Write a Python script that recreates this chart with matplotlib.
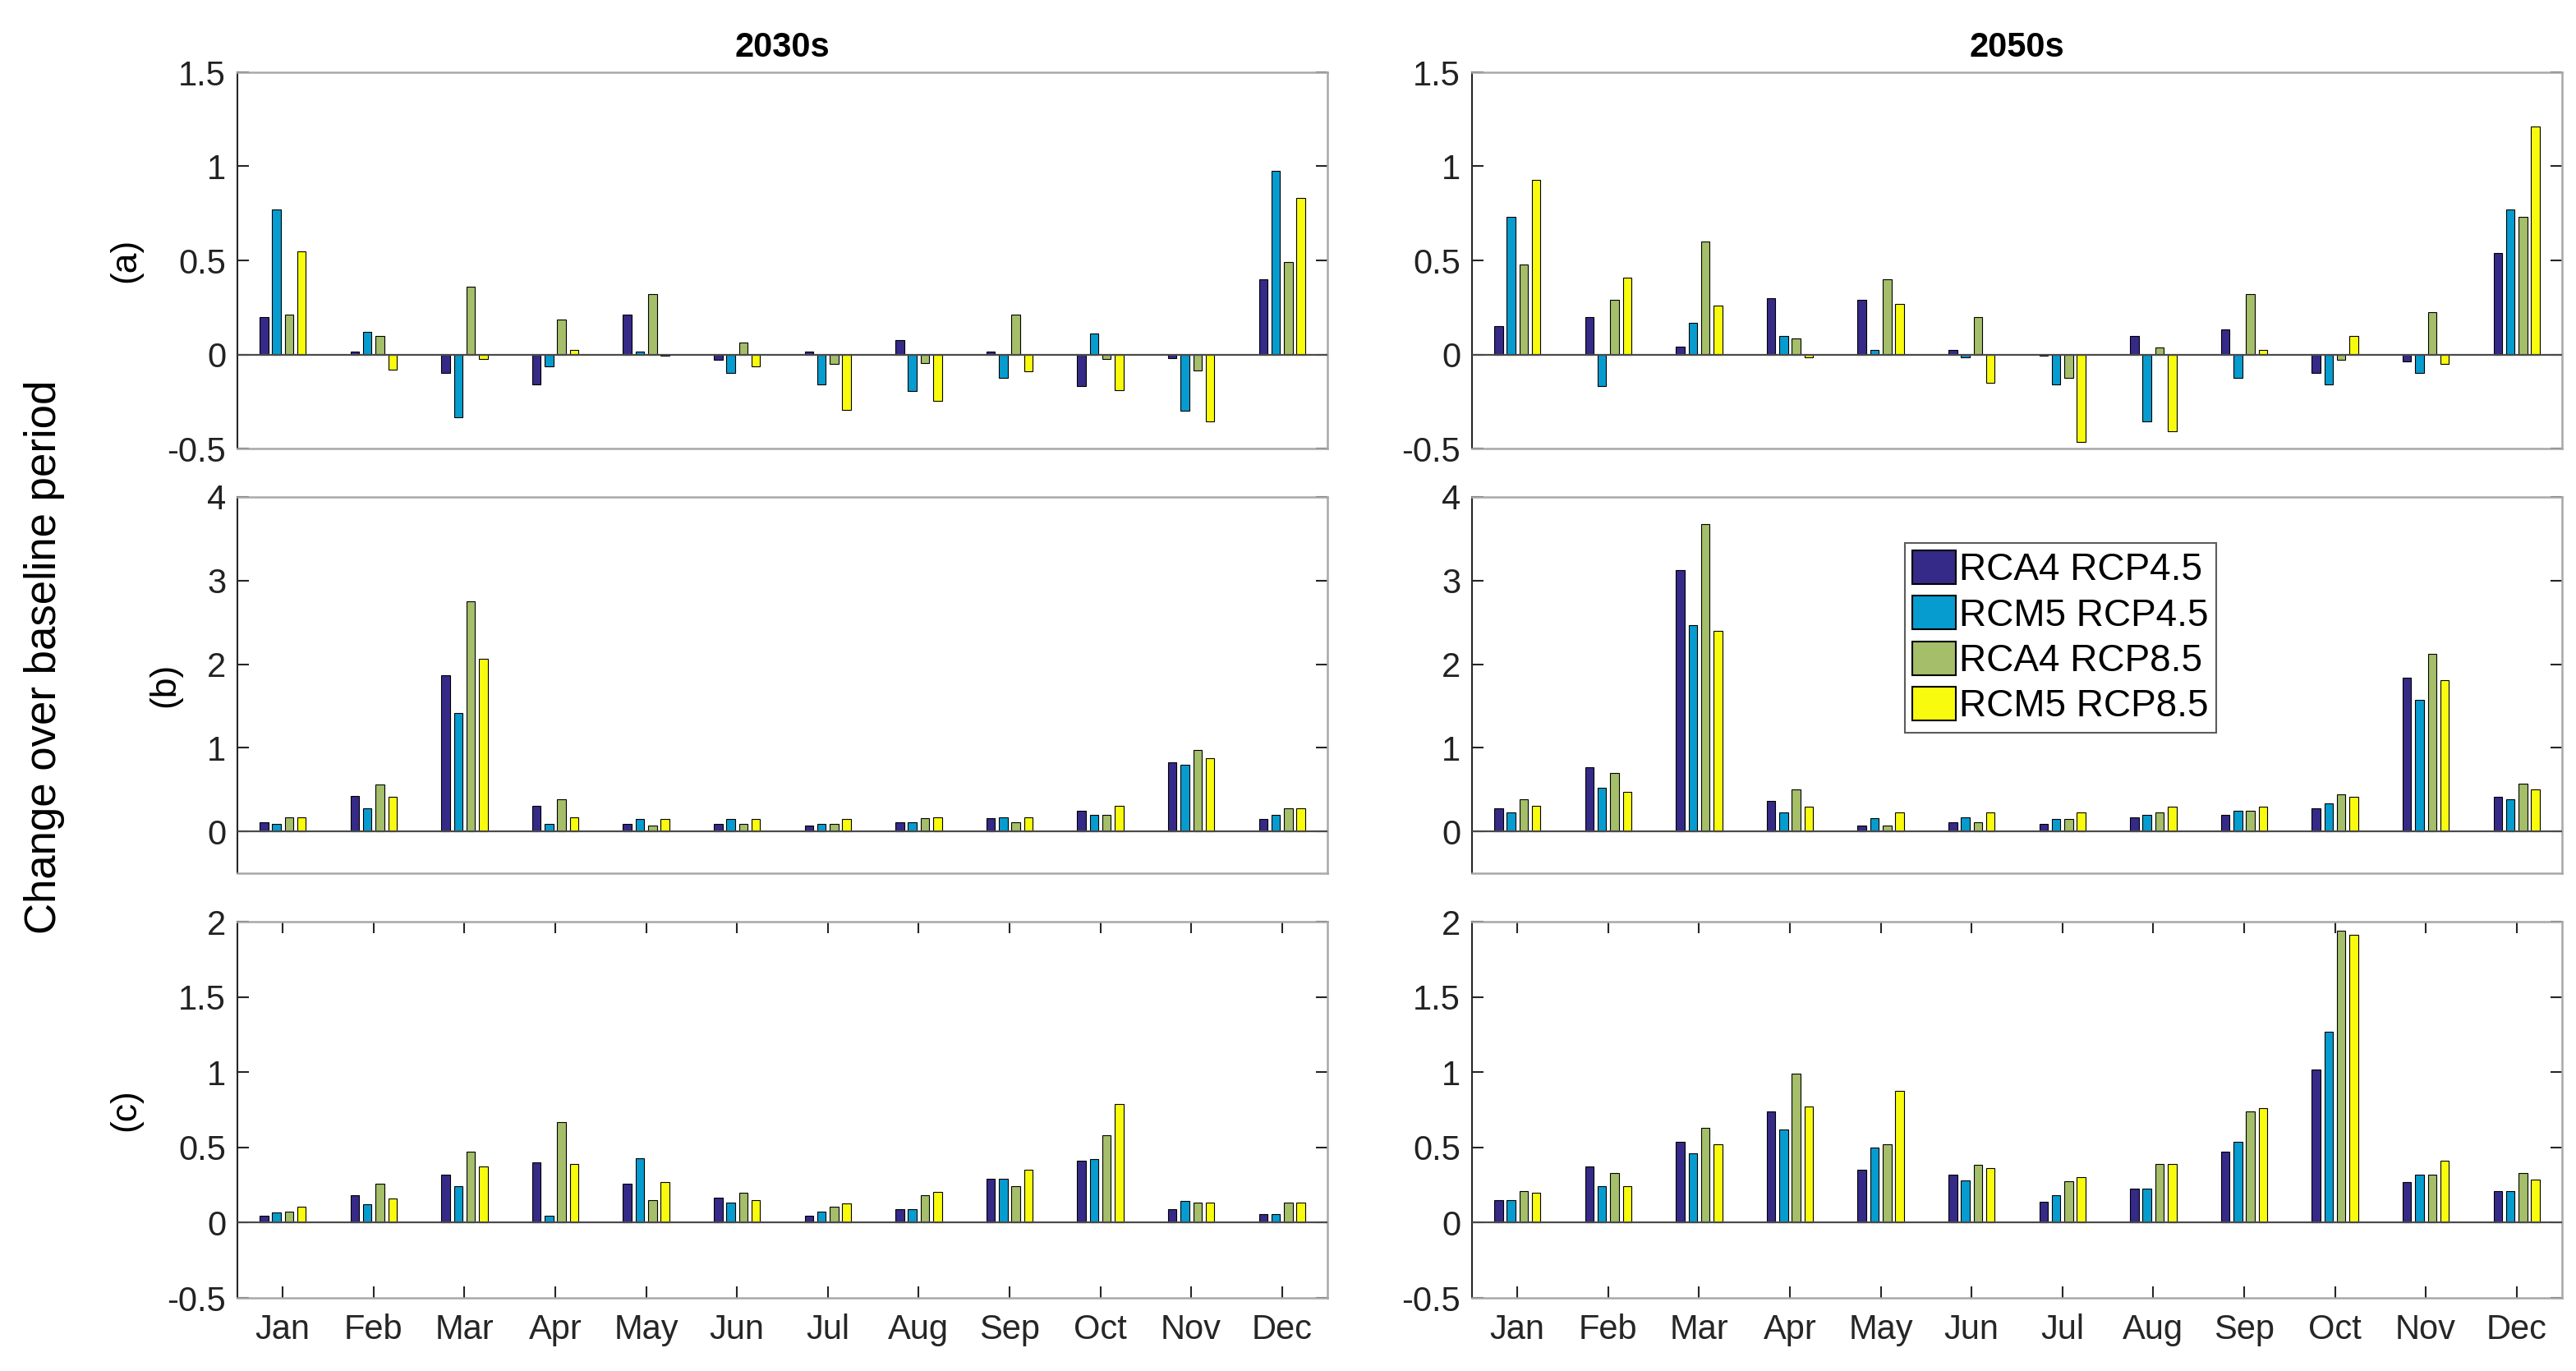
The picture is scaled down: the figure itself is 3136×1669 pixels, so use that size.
import matplotlib
matplotlib.use("Agg")
import matplotlib.pyplot as plt
import numpy as np
from matplotlib.patches import Patch

plt.rcParams['font.family'] = ['Liberation Sans', 'DejaVu Sans']
plt.rcParams['axes.unicode_minus'] = False

months = ['Jan', 'Feb', 'Mar', 'Apr', 'May', 'Jun', 'Jul', 'Aug', 'Sep', 'Oct', 'Nov', 'Dec']
series_names = ['RCA4 RCP4.5', 'RCM5 RCP4.5', 'RCA4 RCP8.5', 'RCM5 RCP8.5']
series_colors = ['#352A87', '#079CCF', '#A5BE6A', '#F9FB0E']
periods = ['2030s', '2050s']
panel_labels = ['(a)', '(b)', '(c)']

# Panel (a)
a_2030_rca45 = [0.20, 0.015, -0.10, -0.16, 0.21, -0.03, 0.015, 0.075, 0.015, -0.17, -0.02, 0.40]
a_2030_rcm45 = [0.77, 0.12, -0.335, -0.065, 0.015, -0.10, -0.16, -0.195, -0.125, 0.11, -0.30, 0.975]
a_2030_rca85 = [0.21, 0.10, 0.36, 0.185, 0.32, 0.065, -0.05, -0.045, 0.21, -0.026, -0.087, 0.49]
a_2030_rcm85 = [0.55, -0.08, -0.026, 0.026, -0.005, -0.065, -0.295, -0.247, -0.09, -0.19, -0.357, 0.83]

a_2050_rca45 = [0.15, 0.20, 0.04, 0.30, 0.29, 0.026, -0.005, 0.10, 0.135, -0.10, -0.036, 0.54]
a_2050_rcm45 = [0.73, -0.17, 0.17, 0.10, 0.026, -0.015, -0.16, -0.357, -0.125, -0.16, -0.10, 0.77]
a_2050_rca85 = [0.48, 0.29, 0.60, 0.087, 0.40, 0.20, -0.125, 0.036, 0.32, -0.03, 0.225, 0.73]
a_2050_rcm85 = [0.93, 0.41, 0.26, -0.015, 0.27, -0.15, -0.466, -0.41, 0.025, 0.10, -0.05, 1.21]

# Panel (b)
b_2030_rca45 = [0.11, 0.42, 1.87, 0.31, 0.09, 0.09, 0.065, 0.11, 0.16, 0.25, 0.83, 0.15]
b_2030_rcm45 = [0.09, 0.28, 1.42, 0.09, 0.15, 0.15, 0.09, 0.11, 0.17, 0.20, 0.80, 0.20]
b_2030_rca85 = [0.17, 0.56, 2.75, 0.385, 0.065, 0.09, 0.09, 0.16, 0.11, 0.20, 0.97, 0.28]
b_2030_rcm85 = [0.17, 0.41, 2.06, 0.17, 0.15, 0.15, 0.15, 0.17, 0.17, 0.31, 0.88, 0.28]

b_2050_rca45 = [0.28, 0.77, 3.13, 0.36, 0.065, 0.11, 0.09, 0.17, 0.20, 0.28, 1.84, 0.41]
b_2050_rcm45 = [0.23, 0.52, 2.47, 0.23, 0.16, 0.17, 0.15, 0.20, 0.25, 0.34, 1.57, 0.385]
b_2050_rca85 = [0.385, 0.70, 3.68, 0.50, 0.065, 0.11, 0.15, 0.23, 0.25, 0.44, 2.12, 0.57]
b_2050_rcm85 = [0.31, 0.47, 2.40, 0.30, 0.23, 0.23, 0.23, 0.30, 0.30, 0.41, 1.81, 0.50]

# Panel (c)
c_2030_rca45 = [0.045, 0.18, 0.32, 0.40, 0.26, 0.165, 0.045, 0.09, 0.29, 0.41, 0.09, 0.057]
c_2030_rcm45 = [0.065, 0.12, 0.24, 0.045, 0.43, 0.135, 0.075, 0.088, 0.29, 0.425, 0.146, 0.057]
c_2030_rca85 = [0.073, 0.26, 0.47, 0.67, 0.15, 0.20, 0.105, 0.18, 0.245, 0.58, 0.133, 0.133]
c_2030_rcm85 = [0.105, 0.16, 0.375, 0.39, 0.27, 0.15, 0.13, 0.205, 0.35, 0.79, 0.133, 0.133]

c_2050_rca45 = [0.15, 0.373, 0.537, 0.74, 0.35, 0.32, 0.137, 0.224, 0.47, 1.02, 0.27, 0.21]
c_2050_rcm45 = [0.15, 0.24, 0.46, 0.62, 0.50, 0.28, 0.18, 0.224, 0.537, 1.27, 0.32, 0.21]
c_2050_rca85 = [0.21, 0.33, 0.63, 0.99, 0.52, 0.386, 0.273, 0.39, 0.74, 1.94, 0.32, 0.33]
c_2050_rcm85 = [0.197, 0.24, 0.52, 0.77, 0.875, 0.364, 0.30, 0.39, 0.76, 1.91, 0.41, 0.286]

panel_data = [
    [[a_2030_rca45, a_2030_rcm45, a_2030_rca85, a_2030_rcm85],
     [a_2050_rca45, a_2050_rcm45, a_2050_rca85, a_2050_rcm85]],
    [[b_2030_rca45, b_2030_rcm45, b_2030_rca85, b_2030_rcm85],
     [b_2050_rca45, b_2050_rcm45, b_2050_rca85, b_2050_rcm85]],
    [[c_2030_rca45, c_2030_rcm45, c_2030_rca85, c_2030_rcm85],
     [c_2050_rca45, c_2050_rcm45, c_2050_rca85, c_2050_rcm85]],
]

ylims = [(-0.5, 1.5), (-0.5, 4), (-0.5, 2)]
yticks = [[-0.5, 0, 0.5, 1, 1.5], [0, 1, 2, 3, 4], [-0.5, 0, 0.5, 1, 1.5, 2]]

W, H = 3136, 1669
fig = plt.figure(figsize=(W / 100, H / 100), dpi=100)

col_x = [289, 1792]
col_w = 1327
row_top = [88, 605, 1122]
row_h = 458

x = np.arange(1, 13)
step = 0.138
bw = 0.095
offsets = (np.arange(4) - 1.5) * step

dark = '#262626'
light = '#A8A8A8'

def fmt(v):
    s = ('%g' % v)
    return s

axes = {}
for r in range(3):
    for c in range(2):
        left = col_x[c] / W
        bottom = 1 - (row_top[r] + row_h) / H
        ax = fig.add_axes([left, bottom, col_w / W, row_h / H])
        axes[(r, c)] = ax
        for s in range(4):
            ax.bar(x + offsets[s], panel_data[r][c][s], width=bw,
                   color=series_colors[s], edgecolor='black', linewidth=0.8,
                   label=series_names[s], zorder=2)
        ax.axhline(0, color='#4a4a4a', lw=1.6, zorder=3)
        ax.set_xlim(0.5, 12.5)
        ax.set_ylim(*ylims[r])
        ax.set_yticks(yticks[r])
        ax.set_yticklabels([fmt(v) for v in yticks[r]])
        ax.tick_params(axis='y', which='both', direction='in', length=10, width=1.5,
                       left=True, right=True, labelsize=30, colors=dark, pad=10)
        ax.tick_params(axis='y', labelcolor='#222222')
        if r == 2:
            ax.set_xticks(x)
            ax.set_xticklabels(months)
            ax.tick_params(axis='x', direction='in', length=10, width=1.5,
                           top=True, bottom=True, labelsize=30, colors=dark, pad=14)
        else:
            ax.set_xticks([])
        ax.spines['left'].set_color(dark)
        ax.spines['left'].set_linewidth(1.5)
        for sp in ['top', 'right', 'bottom']:
            ax.spines[sp].set_color(light)
            ax.spines[sp].set_linewidth(1.8)
        if r == 0:
            ax.set_title(periods[c], fontsize=30, fontweight='bold', pad=14)
        if c == 0:
            ax.set_ylabel(panel_labels[r], fontsize=32, labelpad=22)

leg_ax = axes[(1, 1)]
handles = [Patch(facecolor=series_colors[s], edgecolor='black', linewidth=1.5)
           for s in range(4)]
leg = leg_ax.legend(handles, series_names, loc='upper left',
                    bbox_to_anchor=(0.397, 0.878), fontsize=33,
                    frameon=True, fancybox=False, edgecolor='#333333',
                    handlelength=1.15, handleheight=1.0, handletextpad=0.1,
                    labelspacing=0.2, borderpad=0.2, borderaxespad=0.0)
leg.get_frame().set_linewidth(1.5)

fig.text(54 / W, 1 - 800 / H, 'Change over baseline period', rotation=90,
         fontsize=38, ha='center', va='center')

fig.savefig('out.png', dpi=100, facecolor='white')
